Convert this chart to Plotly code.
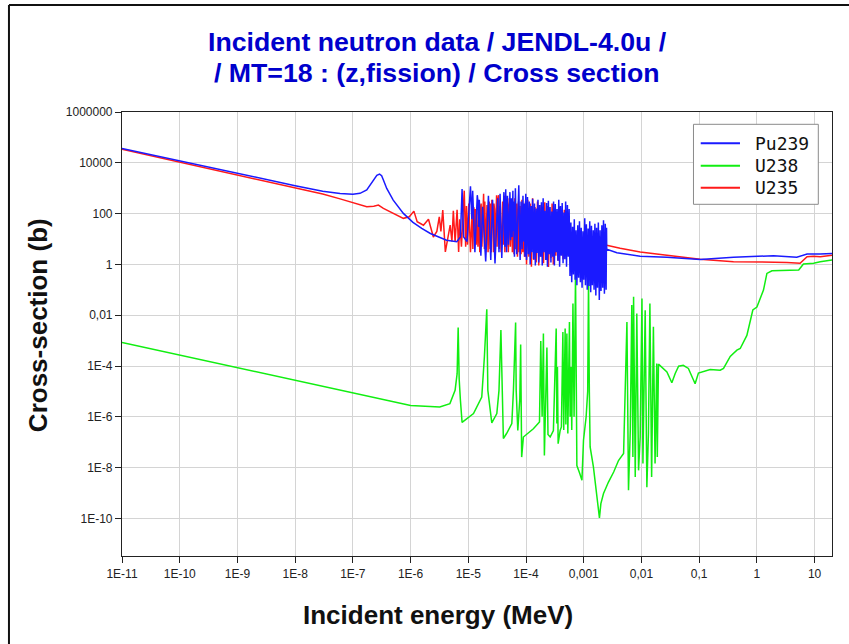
import plotly.graph_objects as go

# ---------------- data (energy in MeV, cross section in barns) ----------------
# Pu239
pu239_low_energy = [1e-11, 1e-10, 1e-9, 1e-8, 3e-8, 6e-8, 1e-7, 1.33e-7, 1.74e-7, 2.26e-7,
                    2.6e-7, 2.9e-7, 3.15e-7, 3.38e-7, 3.86e-7, 5.0e-7, 7.5e-7, 1.1e-6, 1.56e-6,
                    2.2e-6, 3.0e-6, 4.2e-6, 6.3e-6, 7.3e-6]
pu239_low_xs = [3.7e4, 1.18e4, 3.8e3, 1.25e3, 760, 620, 580, 630, 850, 2100,
                3200, 3600, 3100, 2100, 980, 340, 102, 45, 26,
                16.5, 12, 9.0, 7.8, 12]

pu239_res_energy = [7.8e-6, 8.3e-6, 9.5e-6, 1.09e-5, 1.15e-5, 1.19e-5, 1.3e-5, 1.43e-5, 1.47e-5, 1.51e-5,
                    1.55e-5, 1.65e-5, 1.77e-5, 2.0e-5, 2.23e-5, 2.45e-5, 2.63e-5, 2.9e-5, 3.23e-5, 3.4e-5,
                    3.55e-5, 3.8e-5, 4.14e-5, 4.3e-5, 4.45e-5, 4.6e-5, 4.76e-5, 4.97e-5, 5.26e-5, 5.4e-5,
                    5.56e-5, 5.74e-5, 5.92e-5, 6.0e-5, 6.09e-5, 6.3e-5, 6.54e-5, 6.9e-5, 7.49e-5, 7.9e-5,
                    8.2e-5, 8.55e-5, 8.85e-5, 9.08e-5, 9.35e-5, 9.6e-5, 9.9e-5]
pu239_res_xs = [920, 12, 8, 1200, 60, 800, 3.0, 530, 300, 30,
                350, 2.2, 185, 1.3, 500, 1.5, 350, 1.1, 400, 3,
                600, 1.8, 700, 5, 900, 3, 500, 6, 700, 9,
                400, 12, 800, 20, 300, 2, 1000, 2.5, 1300, 1.5,
                300, 4, 500, 8, 250, 2, 600]

pu239_dense1_energy = [1.02e-4, 1.06e-4, 1.10e-4, 1.14e-4, 1.18e-4, 1.22e-4, 1.26e-4, 1.30e-4, 1.35e-4, 1.40e-4,
                       1.45e-4, 1.50e-4, 1.55e-4, 1.61e-4, 1.66e-4, 1.72e-4, 1.78e-4, 1.85e-4, 1.91e-4, 1.98e-4,
                       2.05e-4, 2.12e-4, 2.20e-4, 2.27e-4, 2.35e-4, 2.44e-4, 2.52e-4, 2.61e-4, 2.70e-4, 2.80e-4,
                       2.90e-4, 3.00e-4, 3.10e-4, 3.21e-4, 3.33e-4, 3.44e-4, 3.56e-4, 3.69e-4, 3.82e-4, 3.95e-4,
                       4.09e-4, 4.23e-4, 4.38e-4, 4.54e-4, 4.70e-4, 4.86e-4, 5.03e-4, 5.21e-4, 5.39e-4, 5.58e-4]
pu239_dense1_xs = [1.5, 450, 2.5, 300, 1.0, 200, 3, 380, 1.6, 250,
                   0.9, 160, 2.8, 350, 1.2, 220, 2, 280, 0.9, 400,
                   3, 130, 1.5, 260, 0.8, 320, 2.5, 180, 1.2, 120,
                   2, 300, 0.9, 240, 3, 150, 1.4, 350, 0.8, 200,
                   2.2, 260, 1.1, 110, 1.6, 300, 0.8, 220, 2, 150]

pu239_dense2_energy = [5.78e-4, 5.98e-4, 6.19e-4, 6.41e-4, 6.63e-4, 6.86e-4, 7.10e-4, 7.35e-4, 7.61e-4, 7.87e-4,
                       8.15e-4, 8.43e-4, 8.73e-4, 9.03e-4, 9.35e-4, 9.68e-4, 1.00e-3, 1.04e-3, 1.07e-3, 1.11e-3,
                       1.15e-3, 1.19e-3, 1.23e-3, 1.27e-3, 1.32e-3, 1.36e-3, 1.41e-3, 1.46e-3, 1.51e-3, 1.56e-3,
                       1.62e-3, 1.67e-3, 1.73e-3, 1.79e-3, 1.86e-3, 1.92e-3, 1.99e-3, 2.06e-3, 2.13e-3, 2.20e-3,
                       2.28e-3, 2.36e-3, 2.44e-3, 2.48e-3]
pu239_dense2_xs = [0.35, 45, 0.2, 30, 0.4, 60, 0.25, 22, 0.15, 35,
                   0.3, 50, 0.2, 28, 0.12, 20, 0.25, 65, 0.15, 38,
                   0.1, 26, 0.14, 50, 0.08, 33, 0.15, 22, 0.1, 40,
                   0.06, 28, 0.12, 45, 0.04, 22, 0.09, 35, 0.12, 55,
                   0.07, 40, 0.1, 28]

pu239_fast_energy = [2.5e-3, 3.75e-3, 9.5e-3, 2.76e-2, 0.104, 0.393, 1.94, 4.9, 7.4, 12.5, 20]
pu239_fast_xs = [4.0, 2.9, 2.1, 1.9, 1.57, 1.9, 2.2, 1.9, 2.55, 2.55, 2.7]

# U235
u235_low_energy = [1e-11, 1e-10, 1e-9, 1e-8, 3e-8, 6e-8, 1e-7, 1.74e-7, 2.3e-7, 2.77e-7,
                   3.38e-7, 5.0e-7, 7.5e-7, 9.5e-7, 1.14e-6, 1.3e-6, 1.67e-6, 2.04e-6, 2.48e-6, 2.85e-6,
                   3.14e-6, 3.35e-6, 3.61e-6, 4.0e-6, 4.5e-6, 4.85e-6, 5.2e-6, 5.5e-6, 5.9e-6, 6.39e-6,
                   6.8e-6, 7.08e-6, 7.6e-6, 8.5e-6, 9.0e-6, 9.28e-6, 9.7e-6]
u235_low_xs = [3.4e4, 1.08e4, 3.4e3, 1.07e3, 590, 380, 270, 185, 195, 216,
               160, 100, 65, 75, 125, 48, 35, 60, 12, 20,
               75, 20, 137, 3.1, 12, 35, 8, 130, 7.8, 140,
               3.1, 60, 5, 800, 5, 200, 6]

u235_res_energy = [1.018e-5, 1.09e-5, 1.167e-5, 1.2e-5, 1.239e-5, 1.286e-5, 1.31e-5, 1.328e-5, 1.37e-5, 1.40e-5,
                   1.47e-5, 1.54e-5, 1.58e-5, 1.61e-5, 1.667e-5, 1.72e-5, 1.84e-5, 1.9e-5, 1.93e-5, 2.0e-5,
                   2.06e-5, 2.11e-5, 2.2e-5, 2.29e-5, 2.34e-5, 2.38e-5, 2.43e-5, 2.5e-5, 2.56e-5, 2.65e-5,
                   2.73e-5, 2.78e-5, 2.84e-5, 2.9e-5, 3.09e-5, 3.15e-5, 3.21e-5, 3.35e-5, 3.44e-5, 3.52e-5,
                   3.7e-5, 3.94e-5, 4.05e-5, 4.19e-5, 4.3e-5, 4.46e-5, 4.6e-5, 4.69e-5, 4.83e-5, 4.94e-5,
                   5.12e-5, 5.23e-5, 5.35e-5, 5.6e-5, 5.8e-5, 6.0e-5, 6.2e-5, 6.4e-5, 6.6e-5, 6.9e-5,
                   7.1e-5, 7.4e-5, 7.6e-5, 7.9e-5, 8.2e-5, 8.5e-5, 8.8e-5, 9.1e-5, 9.4e-5, 9.8e-5]
u235_res_xs = [250, 3, 120, 4, 180, 100, 8, 150, 6, 120,
               5, 80, 3, 150, 250, 5, 600, 4, 300, 3,
               150, 220, 3, 300, 200, 4, 250, 3, 350, 200,
               3, 250, 150, 4, 530, 5, 300, 530, 4, 200,
               3, 300, 6, 500, 3, 250, 5, 350, 200, 3,
               400, 150, 5, 300, 3, 200, 2.5, 400, 4, 250,
               2, 300, 3, 200, 2.5, 350, 3, 200, 2, 300]

u235_dense_energy = [1.02e-4, 1.07e-4, 1.12e-4, 1.18e-4, 1.24e-4, 1.30e-4, 1.37e-4, 1.43e-4, 1.50e-4, 1.58e-4,
                     1.66e-4, 1.74e-4, 1.83e-4, 1.92e-4, 2.01e-4, 2.11e-4, 2.22e-4, 2.33e-4, 2.45e-4, 2.57e-4,
                     2.70e-4, 2.83e-4, 2.97e-4, 3.12e-4, 3.28e-4, 3.44e-4, 3.61e-4, 3.79e-4, 3.98e-4, 4.18e-4,
                     4.39e-4, 4.61e-4, 4.84e-4, 5.08e-4]
u235_dense_xs = [1.0, 350, 2.0, 250, 0.8, 400, 1.5, 180, 1.2, 300,
                 0.9, 220, 2.0, 150, 1.1, 280, 1.5, 200, 0.8, 120,
                 1.8, 250, 1.0, 150, 2.2, 100, 1.4, 180, 2.5, 90,
                 1.6, 140, 3, 80]

u235_fast_energy = [5.5e-4, 1e-3, 1.93e-3, 2.5e-3, 4.27e-3, 9.5e-3, 2.76e-2, 0.104, 0.393, 1.49,
                    3.3, 5.6, 7.4, 9.6, 12.5, 20]
u235_fast_xs = [13, 8.5, 5.9, 5.7, 4.3, 3.1, 2.3, 1.6, 1.27, 1.27,
                1.2, 1.1, 2.0, 2.1, 2.0, 2.3]

# U238
u238_low_energy = [1e-11, 1e-10, 1e-9, 1e-8, 1e-7, 1e-6, 3.2e-6, 4.8e-6, 5.9e-6, 6.4e-6,
                   6.67e-6, 6.95e-6, 7.3e-6, 7.8e-6, 1.23e-5, 1.71e-5, 1.9e-5, 2.09e-5, 2.18e-5, 2.55e-5,
                   3.12e-5, 3.4e-5, 3.67e-5, 4.05e-5, 4.6e-5, 5.67e-5, 6.05e-5, 6.6e-5, 6.75e-5, 7.2e-5,
                   7.8e-5, 8.07e-5, 8.4e-5, 9.0e-5, 1.34e-4, 1.71e-4]
u238_low_xs = [8.5e-4, 2.7e-4, 8.5e-5, 2.7e-5, 8.5e-6, 2.8e-6, 2.45e-6, 3.3e-6, 1.1e-5, 5e-5,
               3.3e-3, 3e-5, 4.5e-6, 6e-7, 1.35e-6, 6e-6, 2.3e-4, 1.7e-2, 1.1e-5, 5.8e-7,
               1.35e-6, 1.1e-5, 2.6e-3, 1.4e-7, 2.2e-7, 5.4e-7, 1.1e-5, 5.2e-3, 1.1e-5, 2.9e-7,
               5e-6, 7e-4, 2.6e-8, 1.6e-7, 3.4e-7, 6.3e-7]

u238_res1_energy = [1.8e-4, 1.9e-4, 2.0e-4, 2.08e-4, 2.3e-4, 2.4e-4, 2.62e-4, 2.98e-4, 3.33e-4, 3.42e-4,
                    3.5e-4, 3.6e-4, 3.9e-4, 4.1e-4, 4.35e-4, 4.5e-4, 4.76e-4, 4.9e-4, 5.1e-4, 5.3e-4,
                    5.65e-4, 5.8e-4, 6.0e-4, 6.2e-4, 6.5e-4, 6.8e-4, 7.2e-4, 7.6e-4, 8.5e-4, 9.3e-4,
                    9.9e-4, 1.1e-3, 1.17e-3, 1.21e-3, 1.25e-3, 1.29e-3, 1.47e-3, 1.69e-3, 1.87e-3, 1.98e-3,
                    2.2e-3, 2.68e-3, 3.3e-3, 4.0e-3, 4.9e-3]
u238_res1_xs = [9.7e-4, 1e-6, 1.9e-3, 3e-8, 5.3e-4, 2e-7, 1.6e-7, 2.9e-7, 3e-3, 5.4e-7,
                9.2e-5, 8.8e-8, 2.9e-7, 4e-7, 2.2e-3, 3e-7, 3e-3, 5e-7, 1.9e-3, 2.2e-7,
                5.4e-3, 1e-6, 9.2e-5, 3e-7, 2.9e-2, 1e-6, 0.4, 1.2e-8, 6e-9, 3.2e-9,
                1.2e-7, 1e-6, 1e-5, 0.25, 1e-5, 6.5e-8, 1.06e-8, 7e-10, 1.04e-10, 3.8e-10,
                9.5e-10, 2.7e-9, 6.7e-9, 1.9e-8, 3.6e-8]

u238_res2_energy = [5.6e-3, 5.96e-3, 6.4e-3, 6.8e-3, 7.1e-3, 7.3e-3, 7.8e-3, 8.3e-3, 8.9e-3, 9.5e-3,
                    1.02e-2, 1.06e-2, 1.16e-2, 1.24e-2, 1.32e-2, 1.4e-2, 1.5e-2, 1.61e-2, 1.72e-2, 1.84e-2,
                    1.88e-2]
u238_res2_xs = [5.4e-3, 1.28e-9, 2.9e-7, 2.5e-2, 2.6e-8, 5.3e-2, 4.3e-9, 1.17e-2, 7.8e-9, 1.6e-7,
                4.5e-2, 1.44e-8, 1.57e-2, 1.7e-9, 2.2e-7, 2.9e-2, 4.3e-9, 3.5e-3, 1.44e-8, 1.25e-4,
                2.6e-8]

u238_fast_energy = [1.97e-2, 2.76e-2, 3.36e-2, 3.84e-2, 4.4e-2, 5.3e-2, 6.5e-2, 8.5e-2, 9.7e-2, 0.155,
                    0.231, 0.264, 0.345, 0.45, 0.514, 0.67, 0.85, 1.0, 1.3, 1.49,
                    1.82, 5.3, 6.4, 9.6, 12.5, 20]
u238_fast_xs = [1.18e-4, 5.9e-5, 2.2e-5, 5.1e-5, 9.8e-5, 1.07e-4, 8e-5, 2.0e-5, 5.3e-5, 7.3e-5,
                6.8e-5, 8e-5, 2.4e-4, 4.2e-4, 4.9e-4, 1.6e-3, 1.6e-2, 2.1e-2, 0.097, 0.44,
                0.56, 0.6, 1.03, 1.1, 1.27, 1.48]

# axes
x_tick_values = [1e-11, 1e-10, 1e-9, 1e-8, 1e-7, 1e-6, 1e-5, 1e-4, 1e-3, 1e-2, 1e-1, 1, 10]
x_tick_labels = ["1E-11", "1E-10", "1E-9", "1E-8", "1E-7", "1E-6", "1E-5", "1E-4",
                 "0,001", "0,01", "0,1", "1", "10"]
y_tick_values = [1e6, 1e4, 1e2, 1, 1e-2, 1e-4, 1e-6, 1e-8, 1e-10]
y_tick_labels = ["1000000", "10000", "100", "1", "0,01", "1E-4", "1E-6", "1E-8", "1E-10"]

series_names = ["Pu239", "U238", "U235"]
series_colors = ["#1a1aff", "#11ee11", "#ff1a1a"]


def joined(*parts):
    out = []
    for p in parts:
        out.extend(p)
    return out


pu239_energy = joined(pu239_low_energy, pu239_res_energy, pu239_dense1_energy, pu239_dense2_energy, pu239_fast_energy)
pu239_xs = joined(pu239_low_xs, pu239_res_xs, pu239_dense1_xs, pu239_dense2_xs, pu239_fast_xs)
u235_energy = joined(u235_low_energy, u235_res_energy, u235_dense_energy, u235_fast_energy)
u235_xs = joined(u235_low_xs, u235_res_xs, u235_dense_xs, u235_fast_xs)
u238_energy = joined(u238_low_energy, u238_res1_energy, u238_res2_energy, u238_fast_energy)
u238_xs = joined(u238_low_xs, u238_res1_xs, u238_res2_xs, u238_fast_xs)

fig = go.Figure()
fig.add_trace(go.Scatter(x=u238_energy, y=u238_xs, mode="lines", name="U238",
                         line=dict(color=series_colors[1], width=1.5), showlegend=False))
fig.add_trace(go.Scatter(x=u235_energy, y=u235_xs, mode="lines", name="U235",
                         line=dict(color=series_colors[2], width=1.5), showlegend=False))
fig.add_trace(go.Scatter(x=pu239_energy, y=pu239_xs, mode="lines", name="Pu239",
                         line=dict(color=series_colors[0], width=1.5), showlegend=False))

tick_font = dict(family="Liberation Sans Narrow, Liberation Sans, Arial", size=12, color="#222")
common_axis = dict(type="log", zeroline=False, ticks="outside", ticklen=6, tickcolor="#222", tickwidth=1,
                   showline=True, linecolor="#222", linewidth=1.2, mirror=True, tickfont=tick_font,
                   showgrid=True, gridcolor="#d4d4d4", gridwidth=1.2)
fig.update_layout(
    xaxis=dict(range=[-11, 1.30103], tickvals=x_tick_values, ticktext=x_tick_labels, **common_axis),
    yaxis=dict(range=[-11.48, 6.0], tickvals=y_tick_values, ticktext=y_tick_labels, **common_axis),
    # inner halves of the tick marks (ticks cross the axis line in the reference)
    xaxis2=dict(type="log", range=[-11, 1.30103], tickvals=x_tick_values, overlaying="x", anchor="y",
                side="bottom", ticks="inside", ticklen=6, tickcolor="#222", showticklabels=False,
                showgrid=False, zeroline=False, showline=False),
    yaxis2=dict(type="log", range=[-11.48, 6.0], tickvals=y_tick_values, overlaying="y", anchor="x",
                side="left", ticks="inside", ticklen=6, tickcolor="#222", showticklabels=False,
                showgrid=False, zeroline=False, showline=False),
)

title_font = dict(family="Liberation Sans, Arial", size=26.7, color="#0000cc", weight="bold")
axis_title_font = dict(family="Liberation Sans, Arial", size=26, color="#111", weight="bold")
legend_font = dict(family="DejaVu Sans Mono", size=18, color="#111")

# hand-placed legend box (paper coordinates)
legend_rows_y = [0.9295, 0.8791, 0.8295]
shapes = [
    dict(type="line", xref="paper", yref="paper", x0=-0.1592, x1=1.25, y0=1.2411, y1=1.2411,
         line=dict(color="#111", width=2)),
    dict(type="line", xref="paper", yref="paper", x0=-0.1592, x1=-0.1592, y0=1.2411, y1=-0.25,
         line=dict(color="#111", width=2)),
    dict(type="rect", xref="paper", yref="paper", x0=0.8049, x1=0.9807, y0=0.7921, y1=0.9723,
         fillcolor="white", line=dict(color="#8a8a8a", width=1), layer="above"),
]
annotations = [
    dict(text="Incident neutron data / JENDL-4.0u /", xref="paper", yref="paper",
         x=0.4437, y=1.1578, xanchor="center", yanchor="middle", showarrow=False, font=title_font),
    dict(text="/ MT=18 : (z,fission) / Cross section", xref="paper", yref="paper",
         x=0.4437, y=1.0879, xanchor="center", yanchor="middle", showarrow=False, font=title_font),
    dict(text="Incident energy (MeV)", xref="paper", yref="paper",
         x=0.445, y=-0.1336, xanchor="center", yanchor="middle", showarrow=False, font=axis_title_font),
    dict(text="Cross-section (b)", xref="paper", yref="paper", textangle=-90,
         x=-0.1183, y=0.52, xanchor="center", yanchor="middle", showarrow=False, font=axis_title_font),
]
for name, color, ry in zip(series_names, series_colors, legend_rows_y):
    shapes.append(dict(type="line", xref="paper", yref="paper", x0=0.8151, x1=0.8704, y0=ry, y1=ry,
                       line=dict(color=color, width=2), layer="above"))
    annotations.append(dict(text=name, xref="paper", yref="paper", x=0.8892, y=ry,
                            xanchor="left", yanchor="middle", showarrow=False, font=legend_font))

fig.update_layout(
    width=849, height=644,
    margin=dict(l=122, r=17, t=112, b=88),
    paper_bgcolor="white", plot_bgcolor="white",
    showlegend=False,
    annotations=annotations,
    shapes=shapes,
)

fig.write_html("out.html")
